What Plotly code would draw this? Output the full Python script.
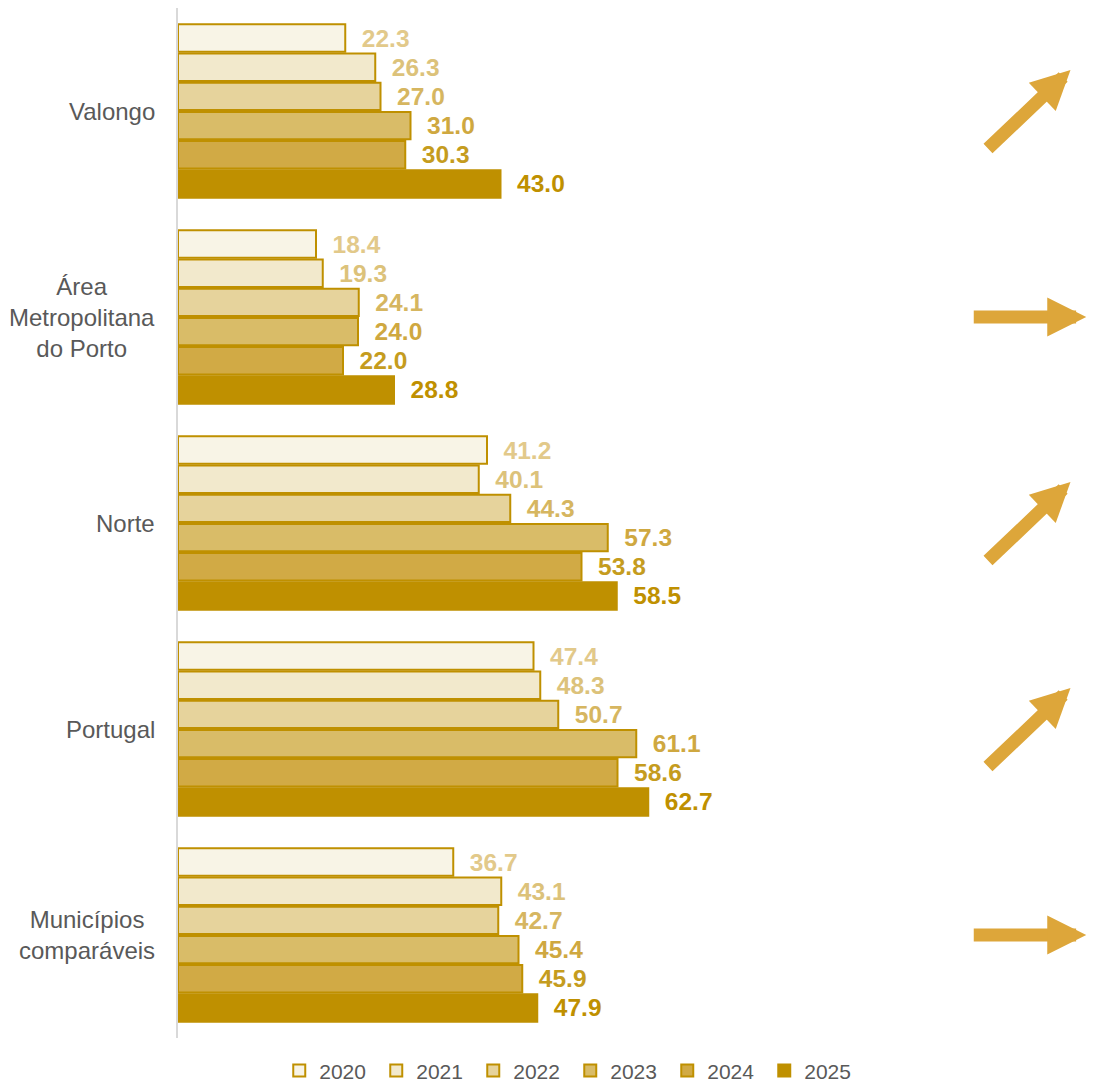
import plotly.graph_objects as go

categories = ["Valongo", "Área<br>Metropolitana<br>do Porto", "Norte", "Portugal", "Municípios<br>comparáveis"]
years = ["2020", "2021", "2022", "2023", "2024", "2025"]

values_2020 = [22.3, 18.4, 41.2, 47.4, 36.7]
values_2021 = [26.3, 19.3, 40.1, 48.3, 43.1]
values_2022 = [27.0, 24.1, 44.3, 50.7, 42.7]
values_2023 = [31.0, 24.0, 57.3, 61.1, 45.4]
values_2024 = [30.3, 22.0, 53.8, 58.6, 45.9]
values_2025 = [43.0, 28.8, 58.5, 62.7, 47.9]

trends = ["up", "flat", "up", "up", "flat"]

series = [values_2020, values_2021, values_2022, values_2023, values_2024, values_2025]

FILL_COLORS = ["#F8F4E6", "#F2E9CC", "#E6D39C", "#D9BC68", "#D1AA45", "#BF9000"]
LABEL_COLORS = ["#E2C98A", "#DCC27A", "#D6B660", "#CFA840", "#C59C1E", "#BF9000"]
OUTLINE = "#BF9000"
ARROW_COLOR = "#DDA63A"
TEXT_GREY = "#595959"
FONT = "Liberation Sans, Arial, sans-serif"

fig = go.Figure()

for year, vals, fill, lab in zip(years, series, FILL_COLORS, LABEL_COLORS):
    fig.add_trace(
        go.Bar(
            name=year,
            x=vals,
            y=categories,
            orientation="h",
            marker=dict(color=fill, line=dict(color=OUTLINE, width=2)),
            texttemplate="\u00a0\u00a0%{x:.1f}",
            textposition="outside",
            constraintext="none",
            cliponaxis=False,
            textfont=dict(color=lab, size=24.5, family=FONT, weight="bold"),
        )
    )

# category labels, centred multi-line like the original
for cat in categories:
    fig.add_annotation(
        x=-0.028, xref="paper", y=cat, yref="y",
        text=cat, showarrow=False, xanchor="right", align="center",
        font=dict(size=24, color=TEXT_GREY, family=FONT),
    )

# trend arrows
for cat, trend in zip(categories, trends):
    if trend == "up":
        fig.add_annotation(
            x=1.19, xref="paper", y=cat, yref="y", yshift=41,
            ax=-84, ay=80, axref="pixel", ayref="pixel",
            text="", showarrow=True, arrowhead=2, arrowsize=0.6,
            arrowwidth=13, arrowcolor=ARROW_COLOR,
        )
    else:
        fig.add_annotation(
            x=1.211, xref="paper", y=cat, yref="y",
            ax=-114, ay=0, axref="pixel", ayref="pixel",
            text="", showarrow=True, arrowhead=2, arrowsize=0.6,
            arrowwidth=13, arrowcolor=ARROW_COLOR,
        )

# the page body adds an 8px offset, so the figure is 8px smaller each way
fig.update_layout(
    width=1095,
    height=1074,
    barmode="group",
    bargap=0.15,
    bargroupgap=0.06,
    plot_bgcolor="white",
    paper_bgcolor="white",
    margin=dict(l=170, r=175, t=0, b=44, autoexpand=False),
    font=dict(family=FONT, color=TEXT_GREY),
    showlegend=True,
    legend=dict(
        orientation="h",
        x=0.523, xanchor="center",
        y=-0.012, yanchor="top",
        font=dict(size=21, color=TEXT_GREY, family=FONT),
        traceorder="normal",
        entrywidth=52,
        entrywidthmode="pixels",
    ),
    xaxis=dict(visible=False, range=[0, 100]),
    yaxis=dict(
        autorange="reversed",
        showticklabels=False,
        showline=True,
        linecolor="#D9D9D9",
        linewidth=2,
        showgrid=False,
        ticks="",
    ),
)

fig.write_html("out.html")
